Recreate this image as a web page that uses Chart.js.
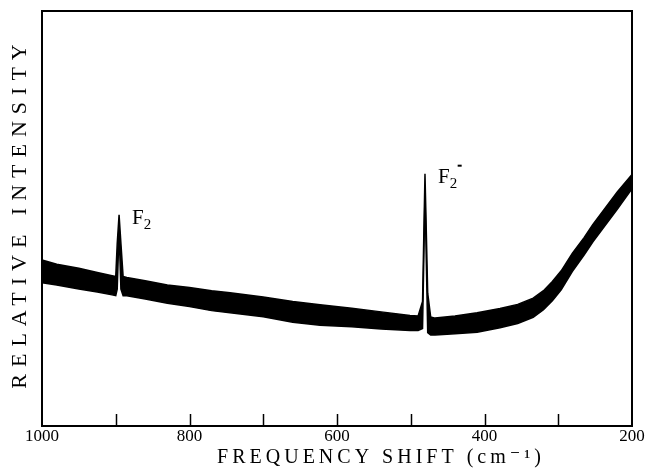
<!DOCTYPE html>
<html>
<head>
<meta charset="utf-8">
<script src="https://cdn.jsdelivr.net/npm/chart.js@4.4.1/dist/chart.umd.min.js"></script>
<style>
  body { margin: 0; background: #fff; }
  canvas { display: block; }
</style>
</head>
<body>
<canvas id="spectrum" width="649" height="469"></canvas>
<script>
// Raman spectrum (band = upper / lower edge of the noisy trace)
const shift = [1000, 980, 950, 925, 905, 900, 898, 895.5, 893, 890, 885, 860, 830, 800, 770, 745, 700, 660, 623, 580, 540, 501, 490, 484, 480.7, 477, 473, 467, 440, 410, 379, 355, 334, 320, 308, 296, 281, 265, 253, 220, 200];
const upperEdge = [40.0, 39.0, 38.0, 37.0, 36.2, 36.0, 44.0, 50.9, 44.0, 36.0, 35.8, 35.0, 34.0, 33.4, 32.6, 32.1, 31.1, 30.0, 29.2, 28.4, 27.5, 26.6, 26.5, 30.0, 60.8, 32.0, 26.3, 26.0, 26.5, 27.3, 28.3, 29.3, 30.8, 32.6, 34.8, 37.4, 41.6, 45.4, 48.6, 56.4, 60.6];
const lowerEdge = [34.5, 34.0, 33.0, 32.3, 31.6, 31.4, 33.0, 47.0, 33.0, 31.4, 31.4, 30.6, 29.6, 28.8, 27.8, 27.3, 26.3, 25.0, 24.3, 23.9, 23.4, 23.0, 23.0, 23.5, 56.0, 22.5, 21.9, 21.9, 22.2, 22.6, 23.7, 24.7, 26.2, 28.0, 30.2, 32.8, 37.2, 41.2, 44.4, 52.2, 57.2];

// x axis
const xMin = 200;
const xMax = 1000;
const xStep = 100;
const xLabelEvery = 200;

// peak labels
const peakAt = [895.5, 480.7];
const peakTop = [50.9, 60.8];
const peakName = ['F', 'F'];
const peakSub = ['2', '2'];
const peakSup = ['', '-'];

const serif = "'Liberation Serif', 'DejaVu Serif', serif";

function toPoints(ys) {
    return shift.map((x, i) => ({ x: x, y: ys[i] }));
}

// frame, inner tick marks, titles and peak names
const decorations = {
    id: 'decorations',
    afterDraw(chart) {
        const ctx = chart.ctx;
        const area = chart.chartArea;
        const xs = chart.scales.x;
        const ys = chart.scales.y;
        ctx.save();

        // frame
        ctx.strokeStyle = '#000';
        ctx.lineWidth = 2;
        ctx.strokeRect(area.left, area.top, area.right - area.left, area.bottom - area.top);

        // tick marks pointing up into the plot
        ctx.lineWidth = 1.5;
        for (let v = xMin + xStep; v < xMax; v += xStep) {
            const px = Math.round(xs.getPixelForValue(v)) + 0.5;
            ctx.beginPath();
            ctx.moveTo(px, area.bottom);
            ctx.lineTo(px, area.bottom - 12);
            ctx.stroke();
        }

        ctx.fillStyle = '#000';
        ctx.textBaseline = 'alphabetic';

        // x title
        ctx.font = '20px ' + serif;
        ctx.letterSpacing = '4px';
        ctx.textAlign = 'center';
        ctx.fillText('FREQUENCY SHIFT (cm⁻¹)', 381, 463);

        // y title
        ctx.save();
        ctx.translate(26, 213);
        ctx.rotate(-Math.PI / 2);
        ctx.font = '22px ' + serif;
        ctx.letterSpacing = '7px';
        ctx.textAlign = 'center';
        ctx.fillText('RELATIVE INTENSITY', 0, 0);
        ctx.restore();

        // peak names
        ctx.letterSpacing = '0px';
        ctx.textAlign = 'left';
        peakAt.forEach((x, i) => {
            const px = xs.getPixelForValue(x) + 13;
            const py = ys.getPixelForValue(peakTop[i]) + 9;
            ctx.font = '21px ' + serif;
            ctx.fillText(peakName[i], px, py);
            const w = ctx.measureText(peakName[i]).width;
            ctx.font = '15px ' + serif;
            ctx.fillText(peakSub[i], px + w, py + 5);
            if (peakSup[i]) {
                ctx.fillRect(px + w + 8, py - 18, 4, 2);
            }
        });

        ctx.restore();
    }
};

const config = {
    type: 'line',
    data: {
        datasets: [{
            data: toPoints(upperEdge),
            borderColor: '#000',
            borderWidth: 1.5,
            pointRadius: 0,
            fill: false,
            tension: 0
        }, {
            data: toPoints(lowerEdge),
            borderColor: '#000',
            borderWidth: 1.5,
            pointRadius: 0,
            backgroundColor: '#000',
            fill: '-1',
            tension: 0
        }]
    },
    options: {
        responsive: false,
        animation: false,
        layout: {
            padding: { left: 42, right: 17, top: 11, bottom: 22 }
        },
        plugins: {
            legend: { display: false },
            title: { display: false },
            tooltip: { enabled: false }
        },
        scales: {
            x: {
                type: 'linear',
                reverse: true,
                min: xMin,
                max: xMax,
                ticks: {
                    stepSize: xStep,
                    autoSkip: false,
                    maxRotation: 0,
                    padding: 2,
                    color: '#000',
                    font: { family: serif, size: 17, lineHeight: 1 },
                    callback: (v) => (v % xLabelEvery === 0 ? String(v) : '')
                },
                grid: { display: false, drawTicks: false },
                border: { display: false }
            },
            y: {
                display: false,
                min: 0,
                max: 100
            }
        }
    },
    plugins: [decorations]
};

const chart = new Chart(document.getElementById('spectrum'), config);
</script>
</body>
</html>
